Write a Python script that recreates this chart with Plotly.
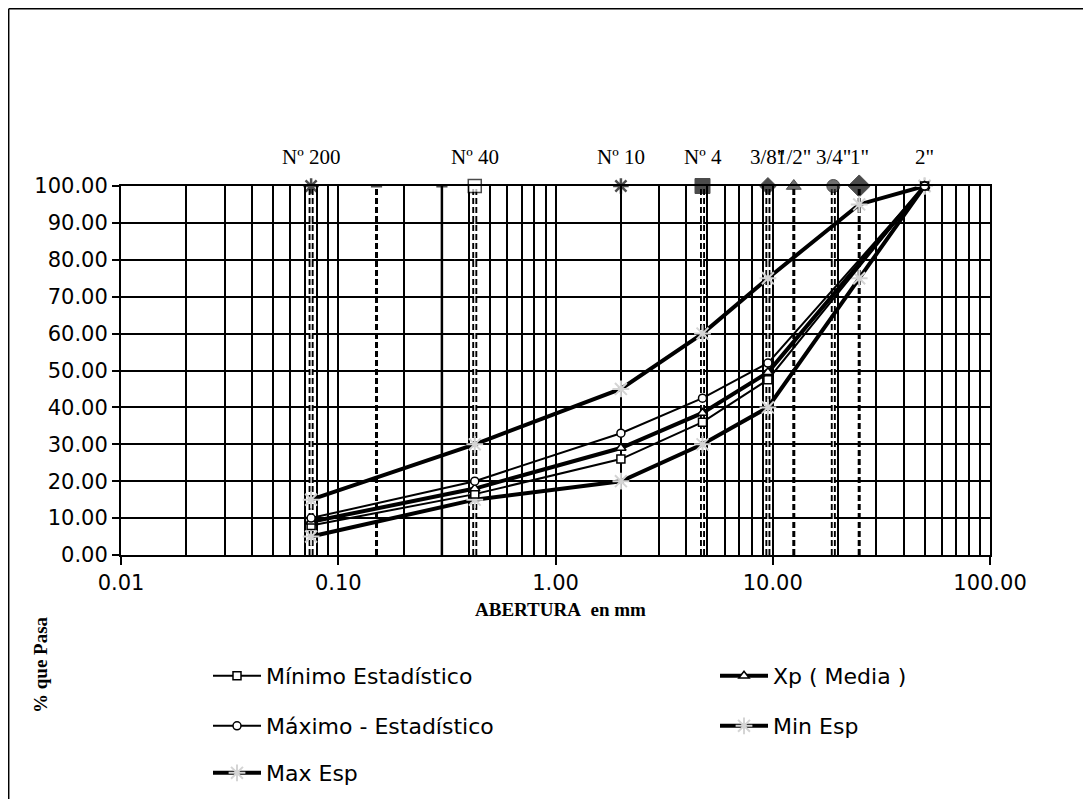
import math
import plotly.graph_objects as go

# ---------------- data ----------------
esp_mm = [0.075, 0.425, 2.00, 4.75, 9.50, 25.0, 50.0]
min_esp = [5, 15, 20, 30, 40, 75, 100]
max_esp = [15, 30, 45, 60, 75, 95, 100]

stat_mm = [0.075, 0.425, 2.00, 4.75, 9.50, 50.0]
min_stat = [8, 16.5, 26, 36, 47.5, 100]
xp_media = [9, 18, 29, 38.5, 49.5, 100]
max_stat = [10, 20, 33, 42.5, 52, 100]

top_mm = [0.075, 0.15, 0.30, 0.425, 2.00, 4.75, 9.50, 12.5, 19.0, 25.0]
top_pct = [100, 100, 100, 100, 100, 100, 100, 100, 100, 100]

label_mm = [0.075, 0.425, 2.00, 4.75, 9.50, 12.5, 19.0, 25.0, 50.0]
label_txt = ["Nº 200", "Nº 40", "Nº 10", "Nº 4", '3/8"', '1/2"', '3/4"', '1"', '2"']

drop_mm = [0.075, 0.15, 0.425, 4.75, 9.50, 12.5, 19.0, 25.0]
drop_double = [True, False, True, True, True, False, True, False]
solid_drop_mm = [0.30]

x_ticks = [0.01, 0.1, 1, 10, 100]
x_ticktext = ["0.01", "0.10", "1.00", "10.00", "100.00"]

# ---------------- styles ----------------
SANS = "DejaVu Sans"
SERIF = "Liberation Serif"
OFF = 8                      # page body margin
W, H = 1091 - 2 * OFF, 807 - 2 * OFF
# plot area in page pixels: x 121..990, y 186..555
L, T = 121 - OFF, 186 - OFF
R, B = W - (990 - OFF), H - (555 - OFF)
PW, PH = W - L - R, H - T - B

fig = go.Figure()

# drop lines (sieve references)
for m, dbl in zip(drop_mm, drop_double):
    fig.add_trace(go.Scatter(x=[m, m], y=[0, 100], mode="lines",
                             line=dict(color="black", width=5 if dbl else 3, dash="6px,3px"),
                             showlegend=False, hoverinfo="skip"))
    if dbl:
        fig.add_trace(go.Scatter(x=[m, m], y=[0, 100], mode="lines",
                                 line=dict(color="white", width=1.2),
                                 showlegend=False, hoverinfo="skip"))
for m in solid_drop_mm:
    fig.add_trace(go.Scatter(x=[m, m], y=[0, 100], mode="lines",
                             line=dict(color="black", width=2.5),
                             showlegend=False, hoverinfo="skip"))

# top sieve markers
fig.add_trace(go.Scatter(
    x=top_mm, y=top_pct, mode="markers", showlegend=False, hoverinfo="skip",
    cliponaxis=False,
    marker=dict(
        symbol=["asterisk-open", "line-ew-open", "line-ew-open", "square", "asterisk-open",
                "square", "diamond", "triangle-up", "circle", "diamond"],
        size=[13, 8, 8, 13, 13, 15, 13, 13, 13, 17],
        color=["black", "black", "black", "white", "black", "black", "black", "#333333", "#333333", "black"],
        line=dict(color="black", width=[2.5, 3, 3, 1.5, 2.5, 1, 1, 1, 1, 1]),
    )))

star_marker = dict(symbol="asterisk-open", size=14, color="#d4d4d4",
                   line=dict(color="#d4d4d4", width=2))

fig.add_trace(go.Scatter(x=esp_mm, y=min_esp, mode="lines+markers", name="Min Esp",
                         line=dict(color="black", width=4), marker=star_marker,
                         cliponaxis=False, legend="legend4"))
fig.add_trace(go.Scatter(x=esp_mm, y=max_esp, mode="lines+markers", name="Max Esp",
                         line=dict(color="black", width=4), marker=star_marker,
                         cliponaxis=False, legend="legend5"))
fig.add_trace(go.Scatter(x=stat_mm, y=min_stat, mode="lines+markers", name="Mínimo Estadístico",
                         line=dict(color="black", width=2),
                         marker=dict(symbol="square", size=8, color="white", line=dict(color="black", width=1.5)),
                         cliponaxis=False, legend="legend"))
fig.add_trace(go.Scatter(x=stat_mm, y=xp_media, mode="lines+markers", name="Xp ( Media )",
                         line=dict(color="black", width=4),
                         marker=dict(symbol="triangle-up", size=9, color="white", line=dict(color="black", width=1.5)),
                         cliponaxis=False, legend="legend2"))
fig.add_trace(go.Scatter(x=stat_mm, y=max_stat, mode="lines+markers", name="Máximo - Estadístico",
                         line=dict(color="black", width=2),
                         marker=dict(symbol="circle", size=8, color="white", line=dict(color="black", width=1.5)),
                         cliponaxis=False, legend="legend3"))

# minor grid positions of a log axis (2..9 in each decade)
minor_vals = [k * 10 ** d for d in range(-2, 2) for k in range(2, 10)]

fig.update_xaxes(
    type="log", range=[-2, 2], tickvals=x_ticks, ticktext=x_ticktext, tickangle=0,
    ticks="outside", ticklen=8, tickwidth=1.5, tickcolor="black",
    showline=True, linecolor="black", linewidth=2, mirror=True,
    showgrid=True, gridcolor="black", gridwidth=1.5, zeroline=False,
    minor=dict(tickvals=minor_vals, showgrid=True, gridcolor="black", gridwidth=1.5, ticks=""),
    tickfont=dict(family=SANS, size=21, color="black"), automargin=False,
)
fig.update_yaxes(
    range=[0, 100], dtick=10, tickformat=".2f",
    ticks="outside", ticklen=7, tickwidth=1.5, tickcolor="black",
    showline=True, linecolor="black", linewidth=2, mirror=True,
    showgrid=True, gridcolor="black", gridwidth=1.5, zeroline=False,
    tickfont=dict(family=SANS, size=21, color="black"), automargin=False,
)

def pxx(px):
    """page pixel x -> paper fraction"""
    return (px - OFF - L) / PW

def pyy(py):
    """page pixel y -> paper fraction"""
    return (H - B - (py - OFF)) / PH

annotations = []
for m, t in zip(label_mm, label_txt):
    annotations.append(dict(x=math.log10(m), y=1, xref="x", yref="paper", yshift=29,
                            text=t, showarrow=False, xanchor="center", yanchor="middle",
                            font=dict(family=SERIF, size=21, color="black")))
annotations.append(dict(x=pxx(560), y=pyy(609), xref="paper", yref="paper",
                        xanchor="center", yanchor="middle",
                        text="<b>ABERTURA&nbsp; en mm</b>", showarrow=False,
                        font=dict(family=SERIF, size=19, color="black")))
annotations.append(dict(x=pxx(40), y=pyy(665), xref="paper", yref="paper",
                        xanchor="center", yanchor="middle",
                        text="<b>% que Pasa</b>", textangle=-90, showarrow=False,
                        font=dict(family=SERIF, size=19, color="black")))

def leg(px, py):
    return dict(x=(px - OFF) / W, y=1 - (py - OFF) / H, xref="container", yref="container",
                xanchor="left", yanchor="middle", bgcolor="rgba(0,0,0,0)",
                itemwidth=48, font=dict(family=SANS, size=22, color="black"))

shapes = [
    dict(type="line", xref="paper", yref="paper", x0=pxx(8.7), x1=pxx(8.7), y0=pyy(8.7), y1=pyy(800),
         line=dict(color="black", width=1.5)),
    dict(type="line", xref="paper", yref="paper", x0=pxx(8.7), x1=pxx(1090), y0=pyy(8.7), y1=pyy(8.7),
         line=dict(color="black", width=1.5)),
    dict(type="line", xref="paper", yref="paper", x0=pxx(8.7), x1=pxx(1090), y0=pyy(800), y1=pyy(800),
         line=dict(color="black", width=1.5)),
]

fig.update_layout(
    width=W, height=H, autosize=False,
    margin=dict(l=L, r=R, t=T, b=B, autoexpand=False),
    paper_bgcolor="white", plot_bgcolor="white",
    annotations=annotations, shapes=shapes,
    legend=leg(208, 676), legend2=leg(715, 676), legend3=leg(208, 726),
    legend4=leg(715, 726), legend5=leg(208, 773),
)

fig.write_html("out.html")
